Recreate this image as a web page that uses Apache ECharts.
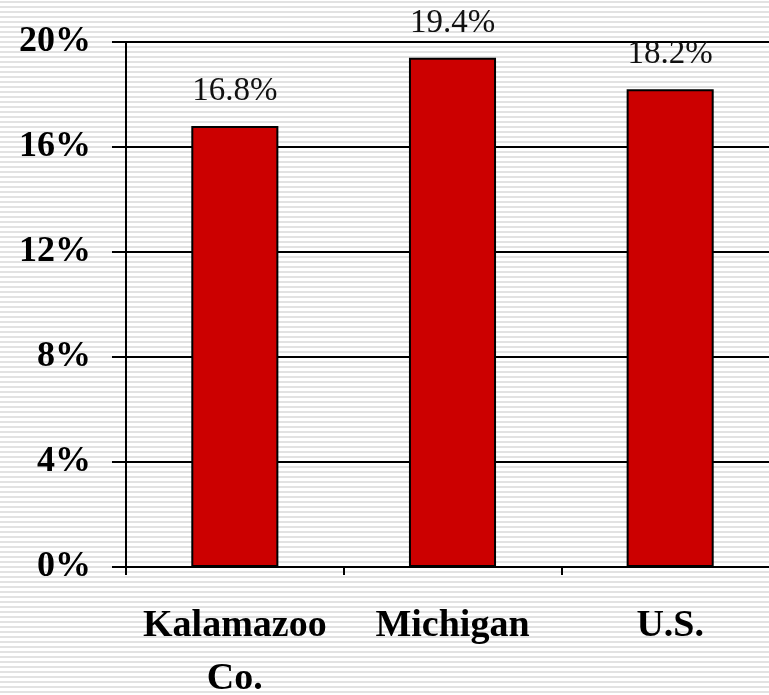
<!DOCTYPE html>
<html>
<head>
<meta charset="utf-8">
<title>Chart</title>
<script src="https://cdn.jsdelivr.net/npm/echarts@6/dist/echarts.min.js"></script>
<style>
  html, body { margin: 0; padding: 0; }
</style>
</head>
<body>
<div id="main" style="width: 769px; height: 695px;"></div>
<script type="text/javascript">
var categories = ['Kalamazoo Co.', 'Michigan', 'U.S.'];
var values = [16.8, 19.4, 18.2];
var yTicks = [0, 4, 8, 12, 16, 20];

// striped backdrop
var stripe = document.createElement('canvas');
stripe.width = 8;
stripe.height = 5;
var ctx = stripe.getContext('2d');
ctx.fillStyle = '#ffffff';
ctx.fillRect(0, 0, 8, 5);
ctx.fillStyle = '#e2e2e2';
ctx.fillRect(0, 1, 8, 2);

var myChart = echarts.init(document.getElementById('main'));
var option = {
  backgroundColor: { image: stripe, repeat: 'repeat' },
  animation: false,
  grid: { left: 126, right: -10, top: 42, bottom: 128, outerBoundsMode: 'none', containLabel: false },
  xAxis: {
    type: 'category',
    data: categories,
    axisLine: { lineStyle: { color: '#000', width: 2 } },
    axisTick: { show: true, length: 8, lineStyle: { color: '#000', width: 2 } },
    axisLabel: {
      interval: 0,
      hideOverlap: false,
      margin: 33,
      color: '#000',
      fontFamily: 'Liberation Serif',
      fontWeight: 'bold',
      fontSize: 38,
      lineHeight: 53,
      formatter: function (v) { return v.replace(' Co.', '\nCo.'); }
    }
  },
  yAxis: {
    type: 'value',
    min: yTicks[0],
    max: yTicks[yTicks.length - 1],
    interval: 4,
    axisLine: { show: true, lineStyle: { color: '#000', width: 2 } },
    axisTick: { show: true, length: 14, lineStyle: { color: '#000', width: 2 } },
    splitLine: { show: true, lineStyle: { color: '#000', width: 2 } },
    axisLabel: {
      margin: 35,
      color: '#000',
      fontFamily: 'Liberation Serif',
      fontWeight: 'bold',
      fontSize: 36,
      formatter: '{value}%'
    }
  },
  series: [{
    type: 'bar',
    data: values,
    barWidth: '40%',
    itemStyle: { color: '#cc0000', borderColor: '#000', borderWidth: 2 },
    label: {
      show: true,
      position: 'top',
      distance: 18,
      color: '#111',
      fontFamily: 'Liberation Serif',
      fontSize: 33,
      formatter: function (p) { return p.value.toFixed(1) + '%'; }
    }
  }]
};
myChart.setOption(option);
</script>
</body>
</html>
